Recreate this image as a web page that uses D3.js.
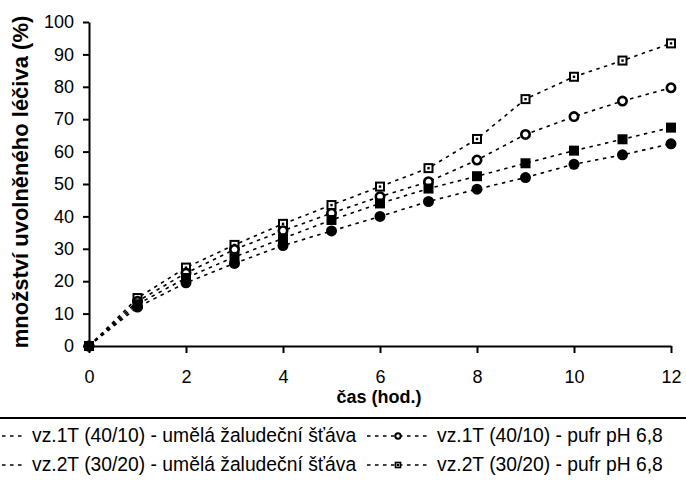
<!DOCTYPE html>
<html lang="cs">
  <head>
    <meta charset="utf-8">
    <title>Uvolňování léčiva</title>
    <script src="https://cdn.jsdelivr.net/npm/d3@7"></script>
    <style>
      body { margin: 0; background: #fff; }
      svg { font-family: "Liberation Sans", Arial, sans-serif; }
    </style>
  </head>
  <body>
    <div id="chart"></div>
    <script>
      // casove body (hod.)
      let hours = [0, 1, 2, 3, 4, 5, 6, 7, 8, 9, 10, 11, 12];

      // uvolnene lecivo (%)
      let vz1T_zaludecni = [0, 12.0, 19.5, 25.5, 31.0, 35.5, 40.0, 44.6, 48.4, 52.0, 56.1, 59.0, 62.4];
      let vz2T_zaludecni = [0, 12.9, 21.0, 27.5, 33.2, 38.9, 44.0, 48.6, 52.4, 56.4, 60.3, 63.8, 67.4];
      let vz1T_pufr      = [0, 13.8, 22.5, 29.8, 35.6, 41.0, 46.1, 50.7, 57.4, 65.3, 70.8, 75.6, 79.7];
      let vz2T_pufr      = [0, 14.8, 24.2, 31.2, 37.7, 43.5, 49.2, 54.9, 63.9, 76.2, 83.1, 88.1, 93.4];

      let xTicks = [0, 2, 4, 6, 8, 10, 12];
      let yTicks = [0, 10, 20, 30, 40, 50, 60, 70, 80, 90, 100];

      let seriesNames = [
          "vz.1T (40/10) - umělá žaludeční šťáva",
          "vz.1T (40/10) - pufr pH 6,8",
          "vz.2T (30/20) - umělá žaludeční šťáva",
          "vz.2T (30/20) - pufr pH 6,8"
      ];

      let svgWidth = 686, svgHeight = 480;
      let margin = { top: 22, left: 89 },
          width = 582,
          height = 324;

      let root = d3.select("#chart").append("svg")
          .attr("width", svgWidth)
          .attr("height", svgHeight);

      let svg = root.append("g")
          .attr("transform", `translate(${margin.left}, ${margin.top})`);

      let x = d3.scaleLinear().domain([0, 12]).range([0, width]);
      let y = d3.scaleLinear().domain([0, 100]).range([height, 0]);

      // series drawn in order, filled markers last
      let series = [
          { name: seriesNames[3], values: vz2T_pufr, marker: "osquare" },
          { name: seriesNames[1], values: vz1T_pufr, marker: "ocircle" },
          { name: seriesNames[0], values: vz1T_zaludecni, marker: "circle" },
          { name: seriesNames[2], values: vz2T_zaludecni, marker: "square" }
      ];

      function drawMarker(g, type, size) {
          let h = size / 2;
          if (type === "circle") {
              g.append("circle").attr("r", h + 0.5).attr("fill", "#000");
          } else if (type === "square") {
              g.append("rect").attr("x", -h).attr("y", -h)
                  .attr("width", size).attr("height", size).attr("fill", "#000");
          } else if (type === "ocircle") {
              g.append("circle").attr("r", h - 0.8).attr("fill", "#fff")
                  .attr("stroke", "#000").attr("stroke-width", size > 8 ? 2.6 : 2);
          } else if (type === "osquare") {
              g.append("rect").attr("x", -h + 1).attr("y", -h + 1)
                  .attr("width", size - 2).attr("height", size - 2)
                  .attr("fill", "#fff").attr("stroke", "#000").attr("stroke-width", size > 8 ? 2 : 1.6);
              g.append("rect").attr("x", -1.2).attr("y", -1.2)
                  .attr("width", 2.4).attr("height", 2.4).attr("fill", "#000");
          }
      }

      let line = d3.line()
          .x((d, i) => x(hours[i]))
          .y(d => y(d));

      series.forEach(s => {
          svg.append("path")
              .datum(s.values)
              .attr("fill", "none")
              .attr("stroke", "#000")
              .attr("stroke-width", 1.6)
              .attr("stroke-dasharray", "3.5,4.5")
              .attr("d", line);
      });

      series.forEach(s => {
          svg.selectAll(null)
              .data(s.values)
              .enter().append("g")
              .attr("transform", (d, i) => `translate(${x(hours[i])}, ${y(d)})`)
              .each(function () { drawMarker(d3.select(this), s.marker, 10); });
      });

      // axes
      let xAxis = d3.axisBottom(x).tickValues(xTicks).tickSize(7).tickPadding(17).tickSizeOuter(0);
      let yAxis = d3.axisLeft(y).tickValues(yTicks).tickSize(6).tickPadding(9).tickSizeOuter(0);

      let gx = svg.append("g")
          .attr("transform", `translate(0, ${height})`)
          .call(xAxis);
      let gy = svg.append("g").call(yAxis);

      [gx, gy].forEach(g => {
          g.select(".domain").attr("stroke", "#000").attr("stroke-width", 2);
          g.selectAll(".tick line").attr("stroke", "#000").attr("stroke-width", 2);
          g.selectAll(".tick text")
              .attr("fill", "#000")
              .style("font-size", "18px")
              .style("font-family", "'Liberation Sans', Arial, sans-serif");
      });

      root.append("text")
          .attr("transform", `translate(28, 182) rotate(-90)`)
          .attr("text-anchor", "middle")
          .style("font-size", "22px")
          .style("font-weight", "bold")
          .text("množství uvolněného léčiva (%)");

      root.append("text")
          .attr("x", 379)
          .attr("y", 403)
          .attr("text-anchor", "middle")
          .style("font-size", "18px")
          .style("font-weight", "bold")
          .text("čas (hod.)");

      // legend
      let legend = root.append("g");
      legend.append("line")
          .attr("x1", 0).attr("x2", svgWidth)
          .attr("y1", 418).attr("y2", 418)
          .attr("stroke", "#000").attr("stroke-width", 2);

      let legendItems = [
          { name: seriesNames[0], marker: "circle", x: 32, y: 442 },
          { name: seriesNames[1], marker: "ocircle", x: 437, y: 442 },
          { name: seriesNames[2], marker: "square", x: 32, y: 471 },
          { name: seriesNames[3], marker: "osquare", x: 437, y: 471 }
      ];

      legendItems.forEach(it => {
          let g = legend.append("g").attr("transform", `translate(${it.x}, ${it.y})`);
          g.append("line")
              .attr("x1", -70).attr("x2", -7)
              .attr("y1", -6).attr("y2", -6)
              .attr("stroke", "#000").attr("stroke-width", 1.6)
              .attr("stroke-dasharray", "3.5,4.5");
          let m = g.append("g").attr("transform", "translate(-39, -6)");
          drawMarker(m, it.marker, 7);
          g.append("text")
              .attr("x", 0)
              .attr("y", 0)
              .style("font-size", "19.3px")
              .text(it.name);
      });
    </script>
  </body>
</html>
